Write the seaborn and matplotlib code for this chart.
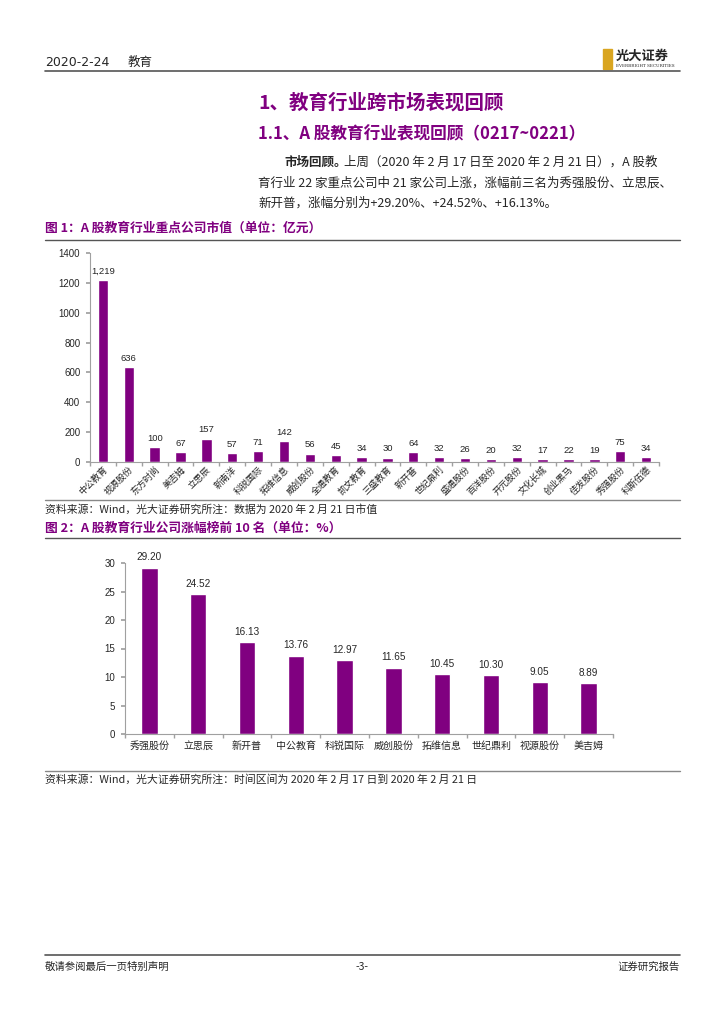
import matplotlib
matplotlib.use("Agg")
import matplotlib.pyplot as plt
import seaborn as sns
import pandas as pd
from matplotlib.lines import Line2D
from matplotlib.patches import Rectangle

# 图1 数据：重点公司市值（亿元）
cap_names = ['中公教育', '视源股份', '东方时尚', '美吉姆', '立思辰', '新南洋', '科锐国际', '拓维信息',
             '威创股份', '全通教育', '凯文教育', '三盛教育', '新开普', '世纪鼎利', '盛通股份', '百洋股份',
             '开元股份', '文化长城', '创业黑马', '佳发股份', '秀强股份', '科斯伍德']
cap_values = [1219, 636, 100, 67, 157, 57, 71, 142, 56, 45, 34, 30, 64, 32, 26, 20, 32, 17, 22, 19, 75, 34]
cap_ticks = [0, 200, 400, 600, 800, 1000, 1200, 1400]

# 图2 数据：涨幅前10名（%）
top_names = ['秀强股份', '立思辰', '新开普', '中公教育', '科锐国际', '威创股份', '拓维信息', '世纪鼎利', '视源股份', '美吉姆']
top_values = [29.20, 24.52, 16.13, 13.76, 12.97, 11.65, 10.45, 10.30, 9.05, 8.89]
top_ticks = [0, 5, 10, 15, 20, 25, 30]

sns.set_theme(style="white")
plt.rcParams['font.family'] = ['Noto Sans CJK SC', 'DejaVu Sans']
plt.rcParams['axes.unicode_minus'] = False

PURPLE = '#800080'
GRAY = '#a0a0a0'
W, H = 724, 1024

fig = plt.figure(figsize=(7.24, 10.24), dpi=100)


def px(x, y):
    return x / W, 1 - y / H


def hline(y, x0=45, x1=680, color='#555555', lw=1.0):
    fig.add_artist(Line2D([x0 / W, x1 / W], [1 - y / H, 1 - y / H], color=color, lw=lw))


def ftext(x, y, s, **kw):
    fig.text(x / W, 1 - y / H, s, va='center', **kw)


# ---- 页眉 ----
ftext(45, 62, '2020-2-24', fontsize=9, family=['Liberation Sans Narrow', 'DejaVu Sans'])
ftext(128, 62, '教育', fontsize=9)
hline(71, lw=1.2)
fig.add_artist(Rectangle(px(603, 69), 9 / W, 20 / H, color='#d9a520', transform=fig.transFigure))
ftext(616, 56, '光大证券', fontsize=9.5, fontweight='bold')
ftext(616, 66, 'EVERBRIGHT SECURITIES', fontsize=3.0, family=['DejaVu Serif'])

# ---- 标题与正文 ----
ftext(258, 103, '1、教育行业跨市场表现回顾', fontsize=14, fontweight='bold', color=PURPLE)
ftext(258, 134, '1.1、A 股教育行业表现回顾（0217~0221）', fontsize=12, fontweight='bold', color=PURPLE)
ftext(284, 162, '市场回顾。', fontsize=9, fontweight='bold')
ftext(344, 162, '上周（2020 年 2 月 17 日至 2020 年 2 月 21 日），A 股教', fontsize=9)
ftext(258, 183, '育行业 22 家重点公司中 21 家公司上涨，涨幅前三名为秀强股份、立思辰、', fontsize=9)
ftext(258, 203, '新开普，涨幅分别为+29.20%、+24.52%、+16.13%。', fontsize=9)

# ---- 图1 ----
ftext(45, 228, '图 1：A 股教育行业重点公司市值（单位：亿元）', fontsize=9.2, fontweight='bold', color=PURPLE)
hline(240)

df1 = pd.DataFrame({'name': cap_names, 'value': cap_values})
ax1 = fig.add_axes([90 / W, 1 - 462 / H, (659 - 90) / W, (462 - 253) / H])
sns.barplot(data=df1, x='name', y='value', color=PURPLE, width=0.4, saturation=1, ax=ax1)
ax1.bar_label(ax1.containers[0], labels=[f'{v:,}' for v in cap_values], padding=3, fontsize=6.8,
              family=['Liberation Sans', 'DejaVu Sans'])
ax1.set_ylim(0, 1400)
ax1.set_xlim(-0.5, len(cap_names) - 0.5)
ax1.set_yticks(cap_ticks)
ax1.set_xlabel('')
ax1.set_ylabel('')

# ---- 图2 ----
hline(500, color='#888888')
ftext(45, 509, '资料来源：Wind，光大证券研究所注：数据为 2020 年 2 月 21 日市值', fontsize=7.8)
ftext(45, 528, '图 2：A 股教育行业公司涨幅榜前 10 名（单位：%）', fontsize=9.2, fontweight='bold', color=PURPLE)
hline(538)

df2 = pd.DataFrame({'name': top_names, 'value': top_values})
ax2 = fig.add_axes([125 / W, 1 - 734 / H, (613 - 125) / W, (734 - 563) / H])
sns.barplot(data=df2, x='name', y='value', color=PURPLE, width=0.34, saturation=1, ax=ax2)
ax2.bar_label(ax2.containers[0], labels=[f'{v:.2f}' for v in top_values], padding=4, fontsize=7.2,
              family=['Liberation Sans', 'DejaVu Sans'])
ax2.set_ylim(0, 30)
ax2.set_xlim(-0.5, len(top_names) - 0.5)
ax2.set_yticks(top_ticks)
ax2.set_xlabel('')
ax2.set_ylabel('')

hline(771, color='#888888')
ftext(45, 780, '资料来源：Wind，光大证券研究所注：时间区间为 2020 年 2 月 17 日到 2020 年 2 月 21 日', fontsize=7.8)

for ax, n in [(ax1, len(cap_names)), (ax2, len(top_names))]:
    for side in ['top', 'right']:
        ax.spines[side].set_visible(False)
    for side in ['left', 'bottom']:
        ax.spines[side].set_color(GRAY)
        ax.spines[side].set_linewidth(0.8)
    ax.tick_params(axis='y', left=True, length=3, color=GRAY, labelsize=7, pad=4)
    ax.tick_params(axis='x', bottom=False, length=0)
    ax.set_xticks([i - 0.5 for i in range(n + 1)], minor=True)
    ax.tick_params(axis='x', which='minor', bottom=True, length=3, color=GRAY)
    ax.grid(False)
    for lab in ax.get_yticklabels():
        lab.set_family(['Liberation Sans', 'DejaVu Sans'])

ax1.set_xticks(range(len(cap_names)))
ax1.set_xticklabels(cap_names, rotation=45, ha='right', rotation_mode='anchor', fontsize=6.5)
ax1.tick_params(axis='x', pad=2)
ax2.set_xticks(range(len(top_names)))
ax2.set_xticklabels(top_names, fontsize=7.2)
ax2.tick_params(axis='x', pad=5)

# ---- 页脚 ----
hline(955, lw=1.2)
ftext(45, 967, '敬请参阅最后一页特别声明', fontsize=7.5)
fig.text(362 / W, 1 - 967 / H, '-3-', fontsize=7.5, ha='center', va='center')
fig.text(680 / W, 1 - 967 / H, '证券研究报告', fontsize=7.5, ha='right', va='center')

fig.savefig('out.png', dpi=100)
